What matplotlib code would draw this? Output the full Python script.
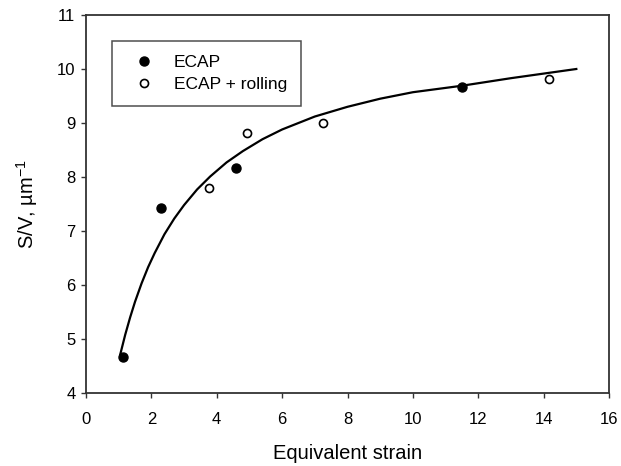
import matplotlib
matplotlib.use("Agg")
import matplotlib.pyplot as plt

plt.rcParams['font.family'] = ['Liberation Sans', 'DejaVu Sans']
plt.rcParams['mathtext.default'] = 'regular'

# measured points
ecap_x = [1.12, 2.29, 4.59, 11.49]
ecap_y = [4.67, 7.42, 8.16, 9.67]
roll_x = [3.77, 4.92, 7.24, 14.16]
roll_y = [7.79, 8.81, 9.00, 9.81]

# fitted curve
fit_x = [1.05, 1.2, 1.35, 1.5, 1.7, 1.9, 2.1, 2.4, 2.7, 3.0, 3.4, 3.8, 4.3,
         4.8, 5.4, 6.0, 7.0, 8.0, 9.0, 10.0, 11.5, 13.0, 15.0]
fit_y = [4.72, 5.08, 5.40, 5.69, 6.03, 6.33, 6.59, 6.94, 7.23, 7.48, 7.77, 8.01, 8.27,
         8.48, 8.70, 8.88, 9.12, 9.30, 9.45, 9.57, 9.69, 9.83, 10.0]

fig = plt.figure(figsize=(6.21, 4.66), dpi=100)
ax = fig.add_axes([86 / 621, 1 - 393 / 466, 523 / 621, 378 / 466])

ax.plot(fit_x, fit_y, color='black', lw=1.6, zorder=2)
ax.plot(ecap_x, ecap_y, 'o', color='black', ms=6.5, label='ECAP', zorder=3)
ax.plot(roll_x, roll_y, 'o', mfc='white', mec='black', mew=1.2, ms=5.8,
        label='ECAP + rolling', zorder=3)

ax.set_xlim(0, 16)
ax.set_ylim(4, 11)
ax.set_xticks(range(0, 17, 2))
ax.set_yticks(range(4, 12))

for s in ax.spines.values():
    s.set_linewidth(1.3)
    s.set_color('#333333')
ax.tick_params(axis='both', direction='out', length=3.6, width=1.0,
               color='#333333', labelsize=12)
ax.tick_params(axis='x', pad=10)
ax.tick_params(axis='y', pad=4)

ax.set_xlabel('Equivalent strain', fontsize=14.5, labelpad=12)
ax.set_ylabel('S/V, µm$^{-1}$', fontsize=14.5, labelpad=12)

leg = ax.legend(loc='upper left', bbox_to_anchor=(0.05, 0.931), borderaxespad=0,
                fontsize=12.5, frameon=True, fancybox=False, handlelength=2.0,
                handletextpad=0.72, borderpad=0.82, labelspacing=0.38,
                numpoints=1)
leg.get_frame().set_edgecolor('#222222')
leg.get_frame().set_linewidth(1.1)

fig.savefig('out.png', dpi=100)
